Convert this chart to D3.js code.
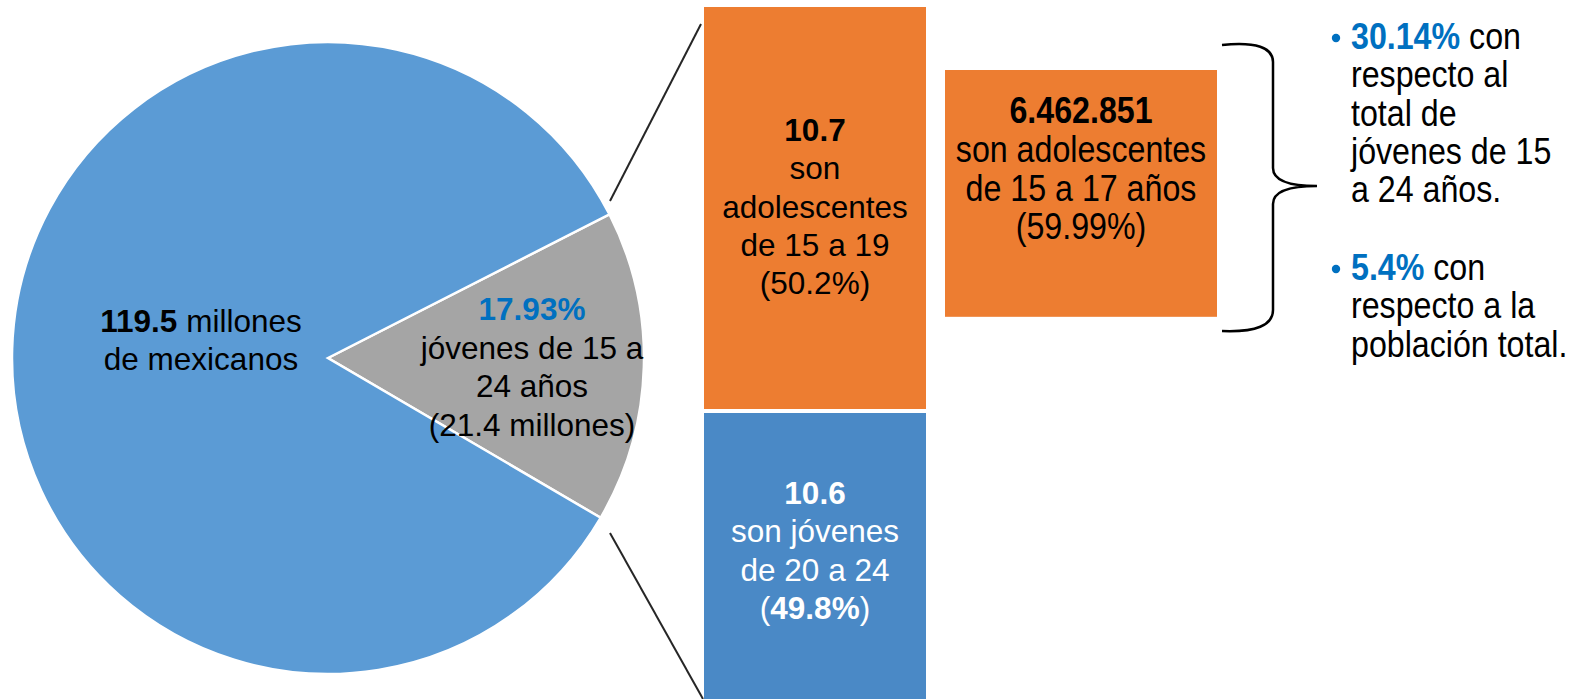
<!DOCTYPE html>
<html>
<head>
<meta charset="utf-8">
<script src="https://cdn.jsdelivr.net/npm/d3@7"></script>
<style>
  body { margin: 0; background: #fff; }
  svg text { font-family: "Liberation Sans", Arial, sans-serif; }
</style>
</head>
<body>
<div id="chart"></div>
<script>
// pie: share of the circle as drawn (young people slice first)
var pieNames = ["jóvenes 15-24", "resto"];
var pieShare = [15.95, 84.05];

// stacked bar (millions)
var barGroups = ["15 a 19", "20 a 24"];
var barValues = [10.7, 10.6];
var barColors = ["#ED7D31", "#4A89C6"];

// detail box (millions)
var boxValue = 6.462851;

var width = 1576, height = 699;

var svg = d3.select("#chart")
    .append("svg")
    .attr("width", width)
    .attr("height", height);

// ---- pie ----
var cx = 328, cy = 358, r = 316;
var a0 = 62.95 * Math.PI / 180;
var pie = d3.pie().sort(null).startAngle(a0).endAngle(a0 + 2 * Math.PI);
var arc = d3.arc().innerRadius(0).outerRadius(r);

var gPie = svg.append("g").attr("transform", "translate(" + cx + "," + cy + ")");
gPie.selectAll("path")
    .data(pie(pieShare))
    .enter()
    .append("path")
    .attr("d", arc)
    .attr("fill", function(d, i) { return i == 0 ? "#A5A5A5" : "#5B9BD5"; })
    .attr("stroke", "#fff")
    .attr("stroke-width", 2.5)
    .attr("stroke-linejoin", "miter");

// pie labels
var fs = "31.5px";
var t1 = svg.append("text").attr("x", 201).attr("y", 332).attr("text-anchor", "middle").style("font-size", fs);
t1.append("tspan").attr("font-weight", "bold").text("119.5");
t1.append("tspan").text(" millones");
svg.append("text").attr("x", 201).attr("y", 370).attr("text-anchor", "middle").style("font-size", fs).text("de mexicanos");

var young = [
    {t: "17.93%", b: true, c: "#0070C0"},
    {t: "jóvenes de 15 a"},
    {t: "24 años"},
    {t: "(21.4 millones)"}
];
svg.selectAll("text.young")
    .data(young)
    .enter()
    .append("text")
    .attr("class", "young")
    .attr("x", 532)
    .attr("y", function(d, i) { return 320 + i * 38.5; })
    .attr("text-anchor", "middle")
    .style("font-size", fs)
    .attr("font-weight", function(d) { return d.b ? "bold" : null; })
    .attr("fill", function(d) { return d.c || "#000"; })
    .text(function(d) { return d.t; });

// ---- stacked bar ----
var barX = 704, barW = 222;
var y = d3.scaleLinear().domain([0, 10.7]).range([0, 402]);
var top0 = 7;
var stackTops = [];
var acc = 0;
barValues.forEach(function(v) { stackTops.push(acc); acc += v; });

svg.selectAll("rect.bar")
    .data(barValues)
    .enter()
    .append("rect")
    .attr("class", "bar")
    .attr("x", barX)
    .attr("y", function(d, i) { return top0 + y(stackTops[i]) + i * 4; })
    .attr("width", barW)
    .attr("height", function(d) { return y(d); })
    .attr("fill", function(d, i) { return barColors[i]; });

// connector lines pie -> bar
svg.append("line").attr("x1", 610).attr("y1", 201).attr("x2", 701).attr("y2", 24)
    .attr("stroke", "#262626").attr("stroke-width", 2);
svg.append("line").attr("x1", 610).attr("y1", 533).attr("x2", 703).attr("y2", 699)
    .attr("stroke", "#262626").attr("stroke-width", 2);

var bx = barX + barW / 2;
var bar1Lines = [
    [{t: "10.7", b: true}],
    [{t: "son"}],
    [{t: "adolescentes"}],
    [{t: "de 15 a 19"}],
    [{t: "(50.2%)"}]
];
bar1Lines.forEach(function(parts, i) {
    var t = svg.append("text").attr("x", bx).attr("y", 141 + i * 38.3)
        .attr("text-anchor", "middle").style("font-size", fs).attr("fill", "#000");
    parts.forEach(function(p) {
        t.append("tspan").attr("font-weight", p.b ? "bold" : null).text(p.t);
    });
});
var bar2Lines = [
    [{t: "10.6", b: true}],
    [{t: "son jóvenes"}],
    [{t: "de 20 a 24"}],
    [{t: "("}, {t: "49.8%", b: true}, {t: ")"}]
];
bar2Lines.forEach(function(parts, i) {
    var t = svg.append("text").attr("x", bx).attr("y", 504 + i * 38.3)
        .attr("text-anchor", "middle").style("font-size", fs).attr("fill", "#fff");
    parts.forEach(function(p) {
        t.append("tspan").attr("font-weight", p.b ? "bold" : null).text(p.t);
    });
});

// ---- detail box ----
var boxX = 945, boxW = 272, boxTop = 70;
svg.append("rect")
    .attr("x", boxX)
    .attr("y", boxTop)
    .attr("width", boxW)
    .attr("height", y(boxValue) + 4)
    .attr("fill", "#ED7D31");

var boxLines = [
    {t: "6.462.851", b: true},
    {t: "son adolescentes"},
    {t: "de 15 a 17 años"},
    {t: "(59.99%)"}
];
var narrow = 0.87;
boxLines.forEach(function(d, i) {
    svg.append("g")
        .attr("transform", "translate(" + (boxX + boxW / 2) + "," + (123 + i * 38.8) + ") scale(" + narrow + ",1)")
        .append("text")
        .attr("text-anchor", "middle")
        .style("font-size", "37px")
        .attr("font-weight", d.b ? "bold" : null)
        .text(d.t);
});

// brace
svg.append("path")
    .attr("d", "M1222,45 Q1273,40 1273,62 L1273,168 Q1273,186 1317,186 Q1273,186 1273,204 L1273,310 Q1273,333 1222,331")
    .attr("fill", "none")
    .attr("stroke", "#000")
    .attr("stroke-width", 2.5);

// bullet notes
var notes = [
    [[{t: "30.14%", c: "#0070C0", b: true}, {t: " con"}], [{t: "respecto al"}], [{t: "total de"}], [{t: "jóvenes de 15"}], [{t: "a 24 años."}]],
    [[{t: "5.4%", c: "#0070C0", b: true}, {t: " con"}], [{t: "respecto a la"}], [{t: "población total."}]]
];
var noteTops = [37, 268];
var lx = 1351;
notes.forEach(function(lines, k) {
    svg.append("circle").attr("cx", 1336).attr("cy", noteTops[k] + 1).attr("r", 4.2).attr("fill", "#0070C0");
    lines.forEach(function(parts, i) {
        var t = svg.append("g")
            .attr("transform", "translate(" + lx + "," + (noteTops[k] + 12 + i * 38.3) + ") scale(" + narrow + ",1)")
            .append("text")
            .style("font-size", "37px")
            .attr("fill", "#000");
        parts.forEach(function(p) {
            t.append("tspan").attr("font-weight", p.b ? "bold" : null).attr("fill", p.c || "#000").text(p.t);
        });
    });
});
</script>
</body>
</html>
